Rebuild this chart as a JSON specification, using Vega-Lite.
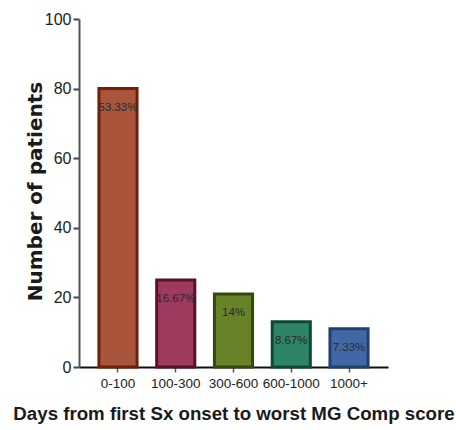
{
  "$schema": "https://vega.github.io/schema/vega-lite/v6.json",
  "autosize": "none",
  "padding": {"left": 79, "top": 19, "right": 68, "bottom": 63},
  "width": 309,
  "height": 348,
  "background": "white",
  "data": {"values": [
    {"group": "0-100", "patients": 80, "pct": "53.33%"},
    {"group": "100-300", "patients": 25, "pct": "16.67%"},
    {"group": "300-600", "patients": 21, "pct": "14%"},
    {"group": "600-1000", "patients": 13, "pct": "8.67%"},
    {"group": "1000+", "patients": 11, "pct": "7.33%"}
  ]},
  "config": {"view": {"stroke": null}},
  "encoding": {
    "x": {
      "field": "group", "type": "nominal", "sort": null,
      "scale": {"paddingInner": 0.34, "paddingOuter": 0.345},
      "axis": {
        "title": "Days from first Sx onset to worst MG Comp score",
        "titleFont": "Liberation Sans", "titleFontSize": 18.7, "titleFontWeight": "bold",
        "titleColor": "#1a1a1a", "titlePadding": 15,
        "labelFont": "Liberation Sans", "labelFontSize": 13.5, "labelColor": "#222",
        "labelAngle": 0, "labelPadding": 4,
        "domainColor": "#111", "domainWidth": 2,
        "tickColor": "#555", "tickWidth": 1.5, "tickSize": 5
      }
    },
    "y": {
      "field": "patients", "type": "quantitative",
      "scale": {"domain": [0, 100], "nice": false},
      "axis": {
        "title": "Number of patients", "values": [0, 20, 40, 60, 80, 100],
        "grid": false,
        "titleFont": "DejaVu Sans", "titleFontSize": 20, "titleFontWeight": "bold",
        "titleColor": "#1a1a1a", "titleX": -44, "titleY": 172,
        "titleBaseline": "middle", "titleAlign": "center", "titleAngle": -90,
        "labelFont": "Liberation Sans", "labelFontSize": 16, "labelColor": "#222",
        "labelPadding": 2,
        "domainColor": "#555", "domainWidth": 2,
        "tickColor": "#444", "tickWidth": 2, "tickSize": 6
      }
    }
  },
  "layer": [
    {
      "mark": {"type": "bar", "strokeWidth": 3},
      "encoding": {
        "fill": {
          "field": "group", "type": "nominal", "sort": null, "legend": null,
          "scale": {"domain": ["0-100", "100-300", "300-600", "600-1000", "1000+"],
                    "range": ["#A8553C", "#9E3A5E", "#68822A", "#2E8466", "#4267A5"]}
        },
        "stroke": {
          "field": "group", "type": "nominal", "sort": null, "legend": null,
          "scale": {"domain": ["0-100", "100-300", "300-600", "600-1000", "1000+"],
                    "range": ["#6E2108", "#5C0E2E", "#334A0C", "#0C4A32", "#22406E"]}
        }
      }
    },
    {
      "mark": {"type": "text", "baseline": "middle", "dy": 19,
               "font": "Liberation Sans", "fontSize": 11.5, "color": "#2a2a2a"},
      "encoding": {"text": {"field": "pct"}}
    }
  ]
}
